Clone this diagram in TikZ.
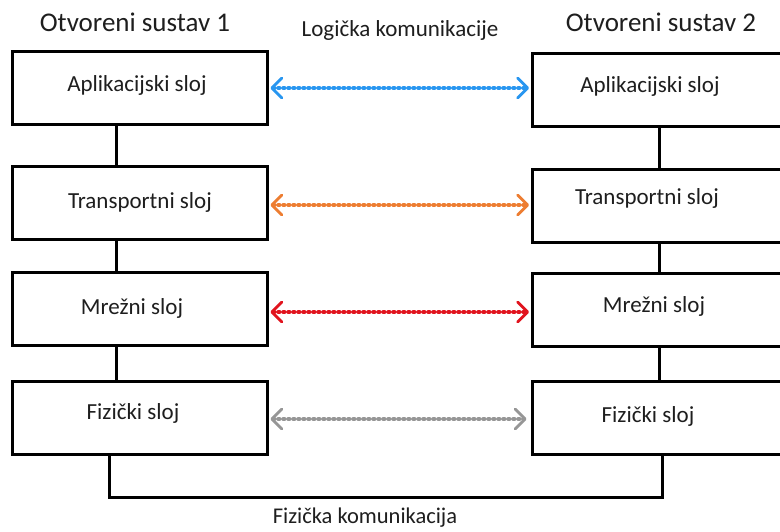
\documentclass[tikz,border=0pt]{standalone}
\usepackage{fontspec}
\setmainfont{Carlito}
\usetikzlibrary{arrows.meta}
\definecolor{cblue}{RGB}{40,150,240}
\definecolor{corange}{RGB}{237,125,49}
\definecolor{cred}{RGB}{225,20,30}
\definecolor{cgray}{RGB}{150,150,150}
\definecolor{ctext}{RGB}{30,30,30}
\begin{document}
\begin{tikzpicture}[x=1pt,y=-1pt,
  layerbox/.style={draw=black, line width=3pt, minimum height=73pt, inner sep=0pt, fill=white},
  leftbox/.style={layerbox, minimum width=255pt},
  rightbox/.style={layerbox, minimum width=268pt},
  lbl/.style={text=ctext, font=\fontsize{23}{27}\selectfont, inner sep=0pt},
  title/.style={text=ctext, font=\fontsize{27}{31}\selectfont, inner sep=0pt},
  link/.style={line width=3pt, line cap=butt},
  logic/.style={line width=4pt, line cap=round, dash pattern=on 1.2pt off 3.8pt,
     {Straight Barb[length=10pt,width=20pt,line width=2.8pt,round]}-{Straight Barb[length=10pt,width=20pt,line width=2.8pt,round]}}
]
\useasboundingbox (0,0) rectangle (780,531);
\clip (0,0) rectangle (780,531);
\fill[white] (0,0) rectangle (780,531);

% titles
\node[title] (t1) at (135,22) {Otvoreni sustav 1};
\node[title] (t2) at (661,22) {Otvoreni sustav 2};
\node[lbl] (tl) at (400,30) {Logička komunikacije};
\node[lbl, font=\fontsize{22.5}{27}\selectfont] (tf) at (365,518) {Fizička komunikacija};

% coordinates for vertical links
\coordinate (cl) at (116,0);
\coordinate (cr) at (659,0);
\coordinate (bl) at (109,497);
\coordinate (br) at (662,497);

% left boxes
\node[leftbox] (L1) at (140,88) {};
\node[leftbox] (L2) at (140,203) {};
\node[leftbox] (L3) at (140,309) {};
\node[leftbox] (L4) at (140,417.5) {};
% right boxes
\node[rightbox] (R1) at (666,89.5) {};
\node[rightbox] (R2) at (666,206) {};
\node[rightbox] (R3) at (666,309.5) {};
\node[rightbox] (R4) at (666,417.5) {};

% box labels
\node[lbl] (L1t) at (137,85) {Aplikacijski sloj};
\node[lbl] (L2t) at (140,202) {Transportni sloj};
\node[lbl] (L3t) at (132,308) {Mrežni sloj};
\node[lbl] (L4t) at (133,413) {Fizički sloj};
\node[lbl] (R1t) at (650,86) {Aplikacijski sloj};
\node[lbl] (R2t) at (647,198) {Transportni sloj};
\node[lbl] (R3t) at (654,306) {Mrežni sloj};
\node[lbl] (R4t) at (648,416) {Fizički sloj};

% vertical connectors
\draw[link] (L1.south -| cl) -- (L2.north -| cl);
\draw[link] (L2.south -| cl) -- (L3.north -| cl);
\draw[link] (L3.south -| cl) -- (L4.north -| cl);
\draw[link] (R1.south -| cr) -- (R2.north -| cr);
\draw[link] (R2.south -| cr) -- (R3.north -| cr);
\draw[link] (R3.south -| cr) -- (R4.north -| cr);
% physical communication
\draw[link, line join=miter] (L4.south -| bl) -- (bl) -- (br) -- (R4.south -| br);

% logical arrows
\draw[logic, cblue] ([xshift=1.5pt]L1.east) -- ([xshift=-1.5pt]L1.east -| R1.west);
\draw[logic, corange] ([xshift=1.5pt,yshift=-2pt]L2.east) -- ([xshift=-1.5pt,yshift=-2pt]L2.east -| R2.west);
\draw[logic, cred] ([xshift=1.5pt,yshift=-3pt]L3.east) -- ([xshift=-1.5pt,yshift=-3pt]L3.east -| R3.west);
\draw[logic, cgray] ([xshift=1.5pt,yshift=-1.5pt]L4.east) -- ([xshift=-4pt,yshift=-1.5pt]L4.east -| R4.west);
\end{tikzpicture}
\end{document}
